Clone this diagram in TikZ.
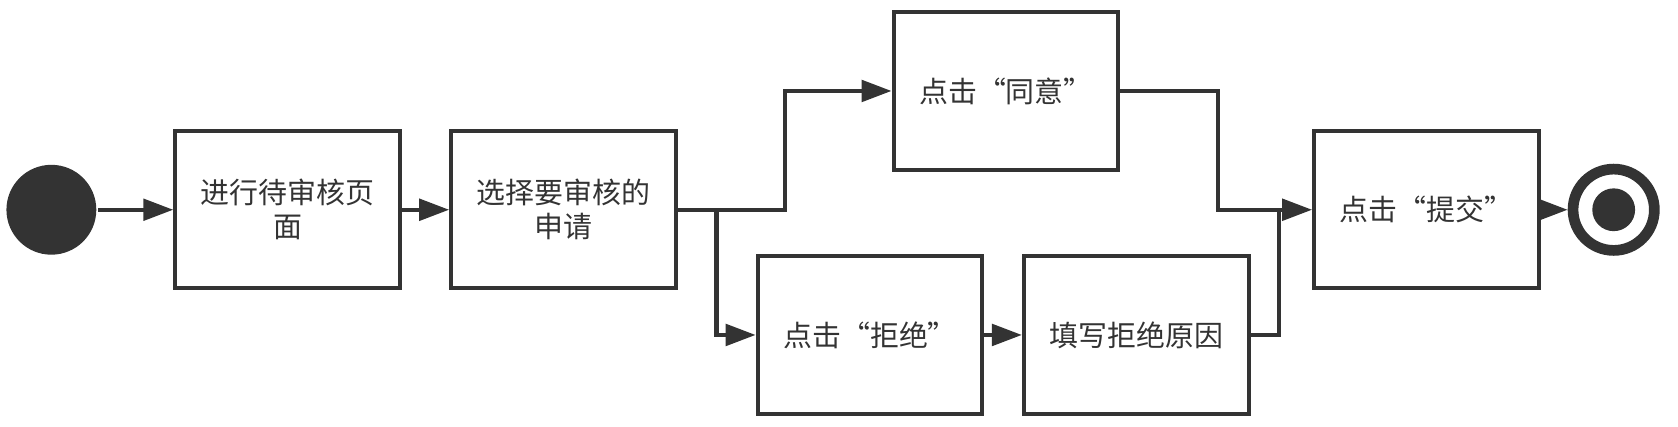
\documentclass[tikz,border=0pt]{standalone}
\usepackage{fontspec}
\setmainfont{Noto Sans CJK SC}
\usetikzlibrary{arrows.meta,positioning}
\definecolor{ink}{HTML}{333333}

\begin{document}
\begin{tikzpicture}[x=0.02cm, y=-0.02cm, line width=2.2pt, color=ink, node distance=0.88cm,
    act/.style={rectangle, draw, minimum width=4.2cm, minimum height=2.94cm, align=center,
      font=\fontsize{15.4}{18.2}\selectfont},
    flow/.style={-{Triangle[length=0.56cm, width=0.4cm]}}]
        \useasboundingbox (0,0) rectangle (1568,399);
        \node[circle, fill, inner sep=0pt, minimum size=1.68cm] (start) at (48,196) {};
        \node[act, right=1.40cm of start] (visit) {进行待审核页\\面};
        \node[act, right=of visit] (pick) {选择要审核的\\申请};
        \node[act] (agree) at (940,85) {点击“同意”};
        \node[act] (reject) at (813,313) {点击“拒绝”};
        \node[act, right=0.70cm of reject] (reason) {填写拒绝原因};
        \node[act] (submit) at (1333,196) {点击“提交”};
        \node[circle, draw, line width=0.2cm, inner sep=0pt, minimum size=1.52cm, right=0.5cm of submit] (stop) {};
        \fill (stop) circle (0.4cm);
        % main line
        \draw[flow] (start) -- (visit);
        \draw[flow] (visit) -- (pick);
        \draw[flow] (pick.east) -- ++(100,0) |- (agree.west);
        \path (pick.east) ++(36,0) coordinate (fork);
        \draw[flow] (fork) |- (reject.west);
        \draw[flow] (reject) -- (reason);
        % merge before submit
        \path (submit.west) ++(-31,0) coordinate (join);
        \draw (agree.east) -- ++(91,0) |- (join);
        \draw (reason.east) -| (join);
        \draw[flow] (join) -- (submit.west);
        \draw[flow] (submit) -- (stop);
      \end{tikzpicture}
\end{document}
